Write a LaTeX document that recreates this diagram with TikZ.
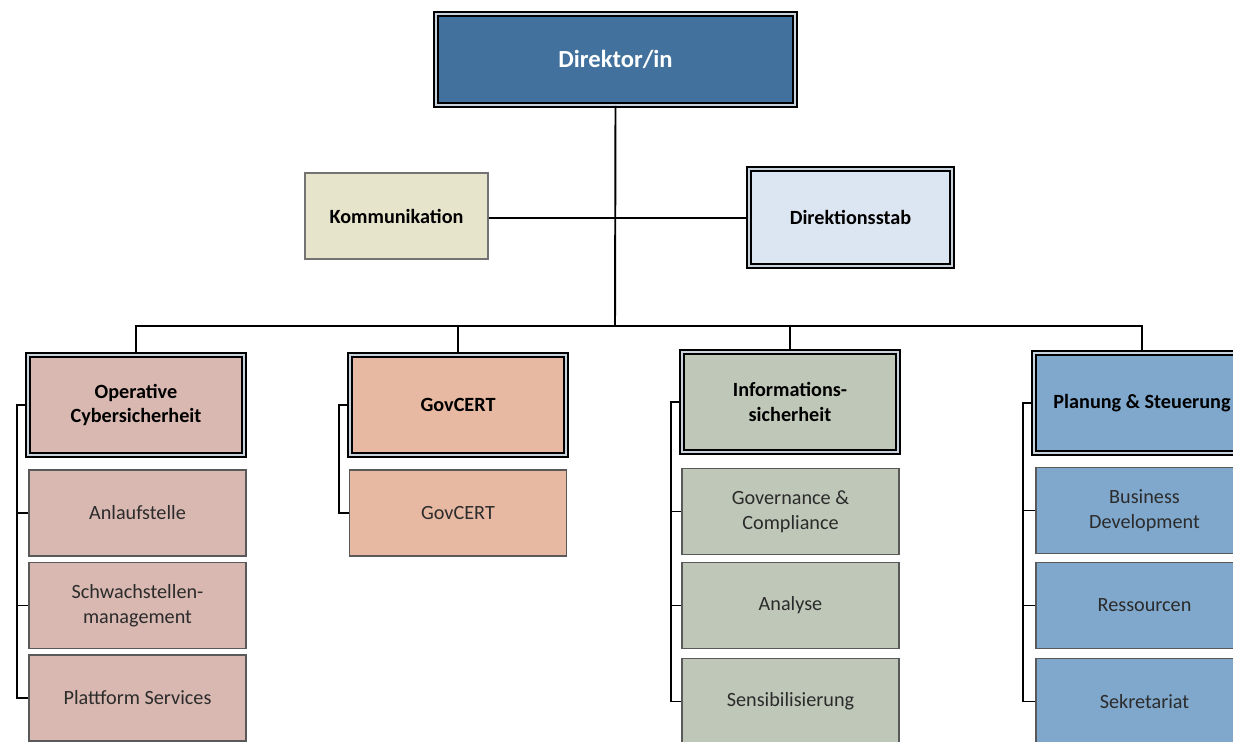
\documentclass[tikz,border=0pt]{standalone}
\usepackage{fontspec}
\setmainfont{Carlito}
\newdimen\pxu \pxu=0.02cm
\definecolor{dirblue}{HTML}{41719C}
\definecolor{kommfill}{HTML}{E6E4CB}
\definecolor{stabfill}{HTML}{DCE6F2}
\definecolor{opfill}{HTML}{D8B8B1}
\definecolor{govfill}{HTML}{E8B9A2}
\definecolor{infofill}{HTML}{BFC7B8}
\definecolor{planfill}{HTML}{7FA8CC}
\definecolor{gapgray}{HTML}{C9D3DD}
\definecolor{subtext}{HTML}{2B2B2B}
\tikzset{
  framed/.style={draw=black, line width=0.9pt, double=gapgray, double distance=1.3pt,
    align=center, inner sep=0pt, font=\fontsize{11.5}{14}\selectfont\bfseries},
  headbox/.style={framed, minimum width=216\pxu, minimum height=100\pxu},
  subbox/.style={draw=black!65, line width=0.6pt, align=center, inner sep=0pt,
    minimum width=217\pxu, minimum height=86\pxu,
    font=\fontsize{11.5}{14}\selectfont, text=subtext},
  link/.style={draw=black, line width=1.1pt}
}
\begin{document}
\begin{tikzpicture}[x=0.02cm, y=-0.02cm]
    \clip (0,0) rectangle (1233,741);
    \fill[white] (0,0) rectangle (1233,741);
    % top
    \node[framed, fill=dirblue, text=white, font=\fontsize{14}{16}\selectfont\bfseries,
          minimum width=359\pxu, minimum height=91\pxu] (dir) at (615.5,59.5) {Direktor/in};
    \node[draw=black!55, line width=0.6pt, fill=kommfill, font=\fontsize{11.5}{14}\selectfont\bfseries,
          minimum width=183\pxu, minimum height=86\pxu] (komm) at (396.5,216) {Kommunikation};
    \node[framed, fill=stabfill, minimum width=203\pxu, minimum height=97\pxu] (stab) at (850.5,217.5) {Direktionsstab};
    % heads
    \node[headbox, fill=opfill] (op) at (136,405) {Operative\\Cybersicherheit};
    \node[headbox, fill=govfill] (gov) at (458,405) {GovCERT};
    \node[headbox, fill=infofill] (info) at (790,402) {Informations-\\sicherheit};
    \node[headbox, fill=planfill] (plan) at (1142,403) {Planung \& Steuerung};
    % sub units
    \node[subbox, fill=opfill] (op1) at (137.5,513) {Anlaufstelle};
    \node[subbox, fill=opfill] (op2) at (137.5,605.5) {Schwachstellen-\\management};
    \node[subbox, fill=opfill] (op3) at (137.5,698) {Plattform Services};
    \node[subbox, fill=govfill] (gov1) at (458,513) {GovCERT};
    \node[subbox, fill=infofill] (info1) at (790.5,511.5) {Governance \&\\Compliance};
    \node[subbox, fill=infofill] (info2) at (790.5,605.5) {Analyse};
    \node[subbox, fill=infofill] (info3) at (790.5,701.5) {Sensibilisierung};
    \node[subbox, fill=planfill] (plan1) at (1144.5,510.5) {Business\\Development};
    \node[subbox, fill=planfill] (plan2) at (1144.5,605.5) {Ressourcen};
    \node[subbox, fill=planfill] (plan3) at (1144.5,701.5) {Sekretariat};
    % lines
    \coordinate (bus) at (615,326);
    \draw[link] (dir.south) -- (bus);
    \draw[link] ([yshift=-2\pxu]komm.east) -- ([yshift=-2\pxu]komm.east -| stab.west);
    \foreach \h in {op, gov, info, plan}
       \draw[link] (bus) -| (\h.north);
    \foreach \h/\c in {op/op1, op/op2, op/op3, gov/gov1, info/info1, info/info2, info/info3,
                       plan/plan1, plan/plan2, plan/plan3}
       \draw[link] (\h.west) -- ++(-10,0) |- (\c.west);
\end{tikzpicture}
\end{document}
